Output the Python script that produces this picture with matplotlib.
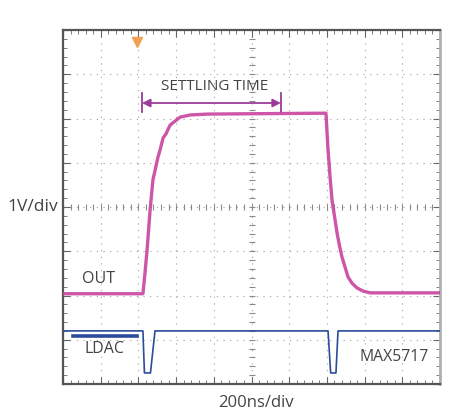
import matplotlib

matplotlib.use('Agg')
import matplotlib.pyplot as plt
import numpy as np

# -----------------------------
# Data (time in ns, amplitude in divisions)
# -----------------------------
out_t = [0, 424, 435, 446, 462, 477, 504, 515, 531, 546, 568, 594, 621, 674, 769, 1395,
         1406, 1416, 1427, 1454, 1467, 1480, 1512, 1533, 1560, 1592, 1629, 2000]
out_v = [2.04, 2.04, 2.51, 3.03, 3.93, 4.61, 5.13, 5.29, 5.56, 5.65, 5.85, 5.94, 6.03, 6.08, 6.10, 6.12,
         5.29, 4.72, 4.16, 3.41, 3.12, 2.87, 2.42, 2.28, 2.17, 2.10, 2.06, 2.06]

ldac_t = [0, 424, 432, 464, 488, 1406, 1420, 1448, 1459, 2000]
ldac_v = [1.2, 1.2, 0.25, 0.25, 1.2, 1.2, 0.25, 0.25, 1.2, 1.2]

settle_start, settle_end = 419, 1156
trigger_t = 393

PINK = '#c8439f'
PURPLE = '#9b3c98'
BLUE = '#2b4b9b'
TEXT = '#444444'

fig = plt.figure(figsize=(4.72, 4.18), dpi=100)
ax = fig.add_axes([63 / 472, 1 - 384 / 418, 377 / 472, 354 / 418])
ax.set_xlim(0, 2000)
ax.set_ylim(0, 8)

# -----------------------------
# Scope graticule
# -----------------------------
for x in np.arange(200, 2000, 200):
    ax.axvline(x, color='#a0a0a0', lw=0.8, ls=(0, (1, 5)), zorder=0)
for y in np.arange(1, 8, 1):
    ax.axhline(y, color='#a0a0a0', lw=0.8, ls=(0, (1, 5)), zorder=0)

# center axes with small ticks
cx = np.arange(0, 2001, 40)
cy = np.arange(0, 8.01, 0.2)
ax.plot(cx, [4] * len(cx), ls='none', marker='|', ms=4, color='#8a8a8a', mew=0.8, zorder=0)
ax.plot([1000] * len(cy), cy, ls='none', marker='_', ms=4, color='#8a8a8a', mew=0.8, zorder=0)

ax.set_xticks(np.arange(0, 2001, 200))
ax.set_xticks(cx, minor=True)
ax.set_yticks(np.arange(0, 9, 1))
ax.set_yticks(cy, minor=True)
ax.tick_params(which='both', direction='in', top=True, right=True,
               labelbottom=False, labelleft=False, color='#666666')
ax.tick_params(which='major', length=5, width=0.8)
ax.tick_params(which='minor', length=3, width=0.6)

for side in ['left', 'bottom', 'top']:
    ax.spines[side].set_color('#555555')
    ax.spines[side].set_linewidth(1.6)
ax.spines['right'].set_color('#b0b0b0')
ax.spines['right'].set_linewidth(2.0)

# -----------------------------
# Traces
# -----------------------------
ax.plot(out_t, out_v, color=PINK, lw=2.4, alpha=0.9, solid_joinstyle='round', zorder=3)
ax.plot(ldac_t, ldac_v, color=BLUE, lw=1.2, zorder=3)

# trigger marker
ax.plot(trigger_t, 7.72, marker='v', ms=7, color='#f0a050', zorder=4)

# settling time arrow
ax.annotate('', xy=(settle_end, 6.35), xytext=(settle_start, 6.35),
            arrowprops=dict(arrowstyle='<|-|>', color=PURPLE, lw=1.3,
                            mutation_scale=12, shrinkA=0, shrinkB=0))
ax.plot([settle_start, settle_start], [6.15, 6.58], color=PURPLE, lw=1.3)
ax.plot([settle_end, settle_end], [6.15, 6.58], color=PURPLE, lw=1.3)
ax.text((settle_start + settle_end) / 2 + 15, 6.73, 'SETTLING TIME', ha='center', va='center',
        fontsize=11, color=TEXT, family='Open Sans')

# labels
ax.text(186, 2.37, 'OUT', ha='center', va='center', fontsize=11.5, color=TEXT, family='Open Sans')
ax.plot([53, 393], [1.08, 1.08], color=BLUE, lw=2.6)
ax.text(218, 0.79, 'LDAC', ha='center', va='center', fontsize=11.5, color=TEXT, family='Open Sans')
ax.text(1756, 0.61, 'MAX5717', ha='center', va='center', fontsize=11.3, color=TEXT, family='Open Sans')

fig.text(33 / 472, 1 - 207 / 418, '1V/div', ha='center', va='center', fontsize=12.5,
         color=TEXT, family='Open Sans')
fig.text(256 / 472, 1 - 403 / 418, '200ns/div', ha='center', va='center', fontsize=12,
         color=TEXT, family='Open Sans')

fig.savefig('out.png', dpi=100)
plt.close('all')
